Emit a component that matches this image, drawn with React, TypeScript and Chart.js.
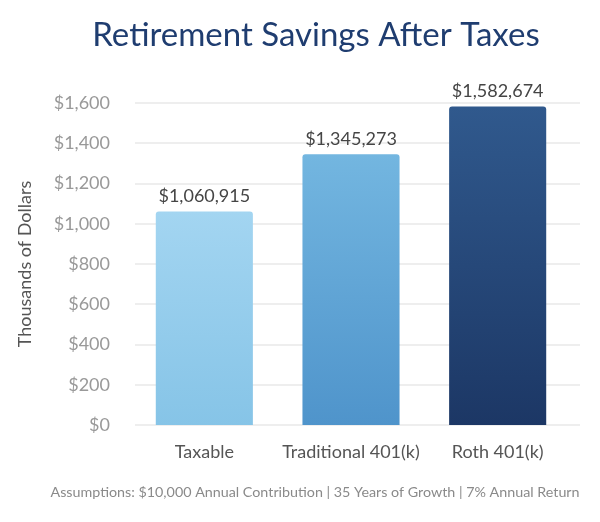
import { useEffect, useRef } from "react";
import { Chart, registerables } from "chart.js";

Chart.register(...registerables);

const categories = ["Taxable", "Traditional 401(k)", "Roth 401(k)"];
const savingsDollars = [1060915, 1345273, 1582674];
const topColors = ["#a3d5f1", "#73b6e0", "#30598d"];
const bottomColors = ["#86c4e7", "#4f94cb", "#1c3765"];
const yTicks = [0, 200, 400, 600, 800, 1000, 1200, 1400, 1600];

const TITLE = "Retirement Savings After Taxes";
const FOOTER = "Assumptions: $10,000 Annual Contribution | 35 Years of Growth | 7% Annual Return";
const FONT = "Lato, 'Open Sans', sans-serif";

// grid lines in the original run a little past the category band on both sides
const gridPlugin = {
  id: "gridPlugin",
  beforeDatasetsDraw(chart: any) {
    const { ctx } = chart;
    const y = chart.scales.y;
    ctx.save();
    ctx.strokeStyle = "#eeeeee";
    ctx.lineWidth = 2;
    yTicks.forEach((v) => {
      const py = Math.round(y.getPixelForValue(v));
      ctx.beginPath();
      ctx.moveTo(135, py);
      ctx.lineTo(580, py);
      ctx.stroke();
    });
    ctx.restore();
  },
};

const textPlugin = {
  id: "textPlugin",
  afterDatasetsDraw(chart: any) {
    const { ctx } = chart;
    const meta = chart.getDatasetMeta(0);
    ctx.save();
    ctx.font = `18px ${FONT}`;
    ctx.fillStyle = "#454545";
    ctx.textAlign = "center";
    ctx.textBaseline = "bottom";
    meta.data.forEach((bar: any, i: number) => {
      ctx.fillText("$" + savingsDollars[i].toLocaleString("en-US"), bar.x, bar.y - 6);
    });
    ctx.restore();
  },
  afterDraw(chart: any) {
    const { ctx } = chart;
    ctx.save();
    ctx.textAlign = "center";
    ctx.textBaseline = "middle";
    ctx.font = `33px ${FONT}`;
    ctx.fillStyle = "#1f3d70";
    ctx.fillText(TITLE, 316, 35);
    ctx.font = `14.3px ${FONT}`;
    ctx.fillStyle = "#8a8a8a";
    ctx.fillText(FOOTER, 315, 492);
    ctx.restore();
  },
};

export default function App() {
  const chartRef = useRef<HTMLCanvasElement>(null);
  const chartInstance = useRef<Chart | null>(null);

  useEffect(() => {
    if (!chartRef.current) return;
    if (chartInstance.current) chartInstance.current.destroy();

    chartInstance.current = new Chart(chartRef.current, {
      type: "bar",
      data: {
        labels: categories,
        datasets: [
          {
            data: savingsDollars.map((v) => v / 1000),
            backgroundColor: (context: any) => {
              const chart = context.chart;
              const i = context.dataIndex;
              const area = chart.chartArea;
              const y = chart.scales?.y;
              if (!area || !y || i === undefined) return topColors[i ?? 0];
              const top = y.getPixelForValue(savingsDollars[i] / 1000);
              const g = chart.ctx.createLinearGradient(0, top, 0, area.bottom);
              g.addColorStop(0, topColors[i]);
              g.addColorStop(1, bottomColors[i]);
              return g;
            },
            borderRadius: { topLeft: 3, topRight: 3, bottomLeft: 0, bottomRight: 0 },
            borderSkipped: "bottom",
            categoryPercentage: 1,
            barPercentage: 0.662,
          },
        ],
      },
      options: {
        responsive: true,
        maintainAspectRatio: false,
        animation: false,
        layout: { padding: { top: 103, right: 29, bottom: 47, left: 8 } },
        plugins: {
          legend: { display: false },
          tooltip: { enabled: false },
        },
        scales: {
          x: {
            grid: { display: false, drawTicks: false },
            border: { display: false },
            ticks: {
              color: "#555555",
              font: { family: FONT, size: 18 },
              padding: 16,
            },
            afterFit: (scale: any) => {
              scale.height = 50;
            },
          },
          y: {
            min: 0,
            max: 1600,
            afterBuildTicks: (scale: any) => {
              scale.ticks = yTicks.map((v) => ({ value: v }));
            },
            grid: { display: false, drawTicks: false },
            border: { display: false },
            ticks: {
              color: "#999999",
              font: { family: FONT, size: 18 },
              padding: 21,
              callback: (v: any) => "$" + Number(v).toLocaleString("en-US"),
            },
            title: {
              display: true,
              text: "Thousands of Dollars",
              color: "#555555",
              font: { family: FONT, size: 18 },
              padding: { top: 6, bottom: 0 },
            },
            afterFit: (scale: any) => {
              scale.width = 123;
            },
          },
        },
      },
      plugins: [gridPlugin, textPlugin],
    });

    return () => {
      if (chartInstance.current) {
        chartInstance.current.destroy();
        chartInstance.current = null;
      }
    };
  }, []);

  return (
    <div style={{ position: "fixed", left: 0, top: 0, width: 600, height: 522, background: "#fff" }}>
      <canvas ref={chartRef} />
    </div>
  );
}
